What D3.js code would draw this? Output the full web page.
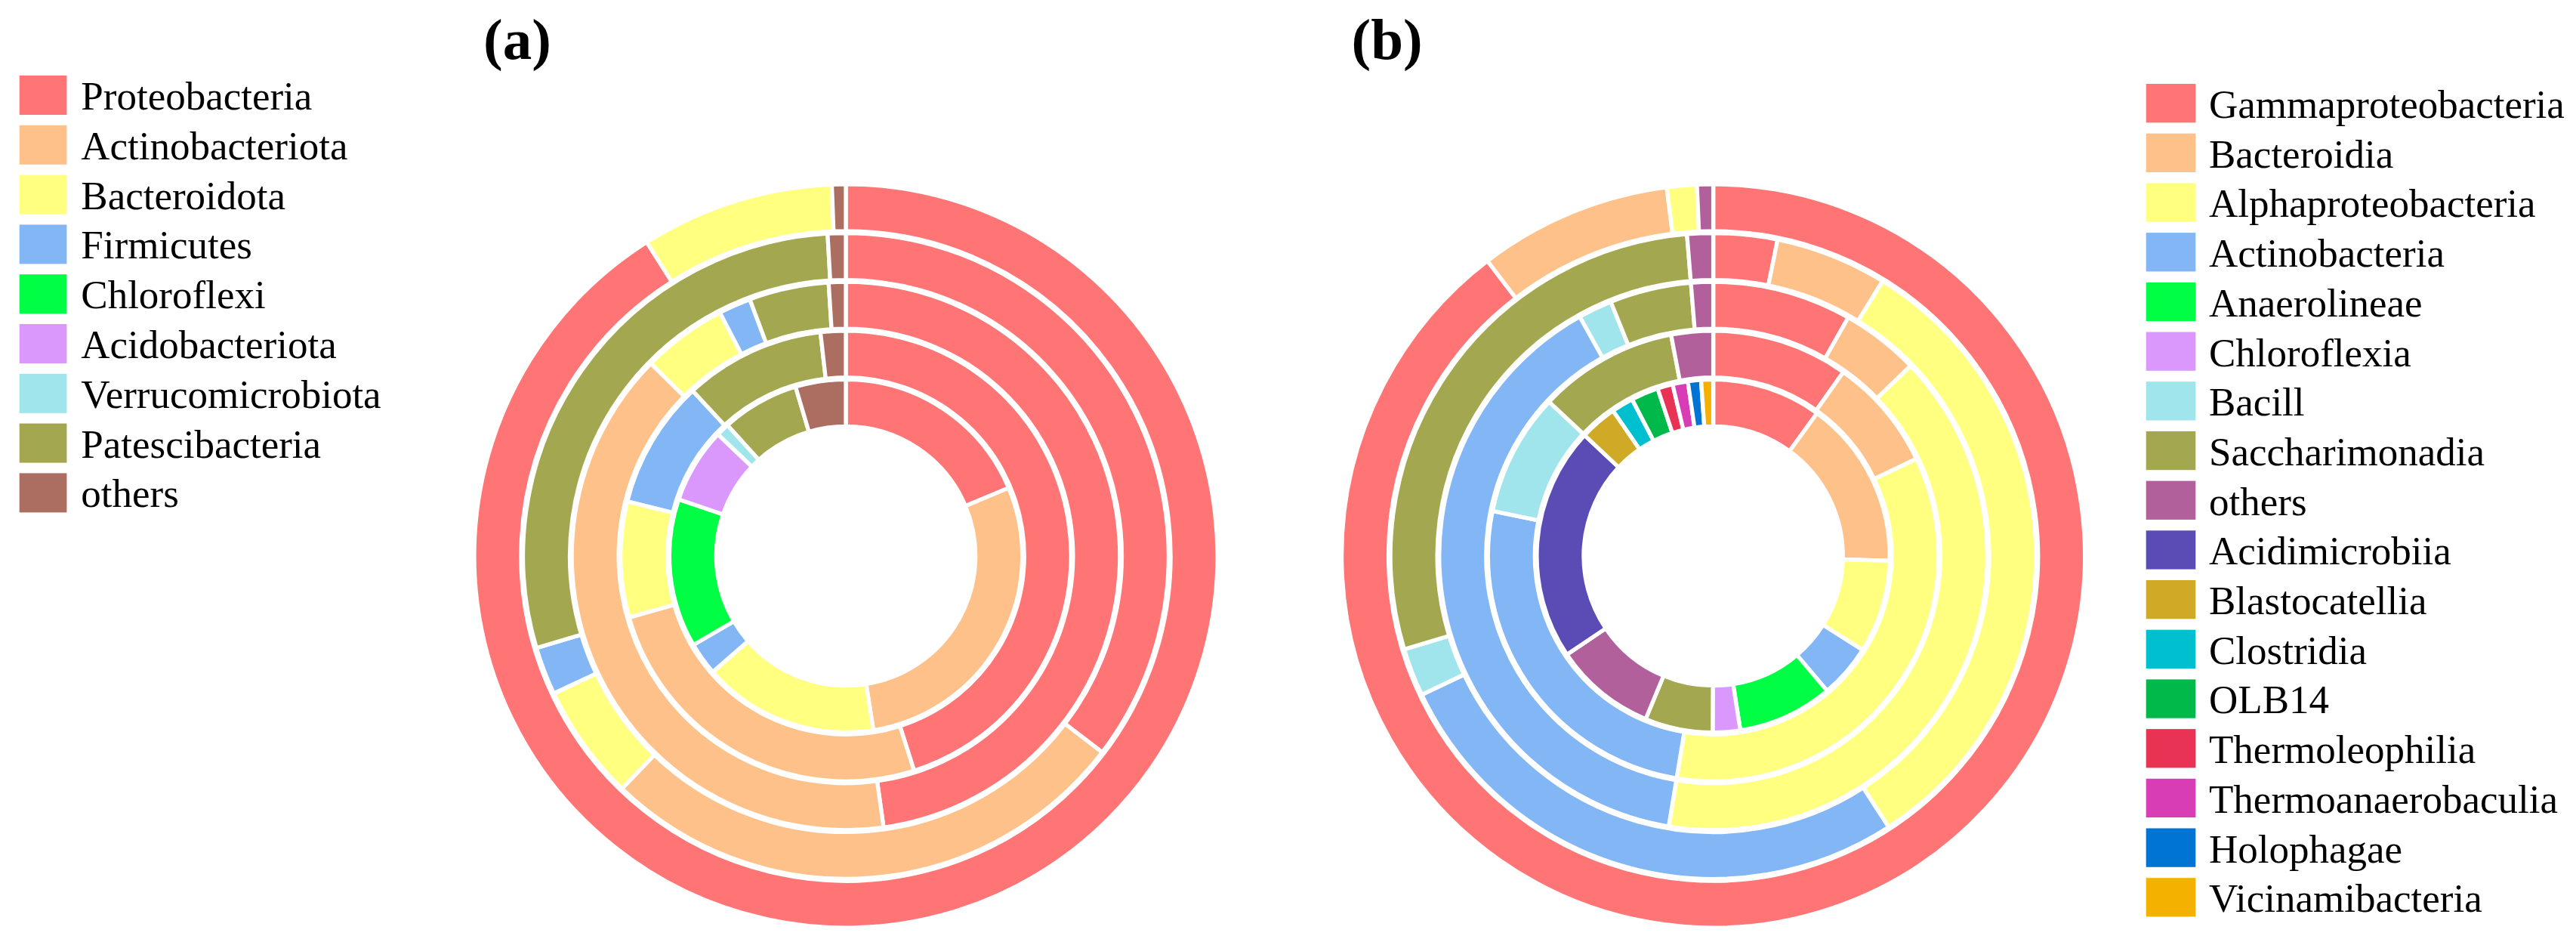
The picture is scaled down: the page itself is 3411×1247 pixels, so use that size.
<!DOCTYPE html>
<html>
<head>
<meta charset="utf-8">
<script src="https://cdn.jsdelivr.net/npm/d3@7"></script>
<style>
  body { margin: 0; background: #fff; }
  svg { display: block; }
  text { font-family: "Liberation Serif", "Times New Roman", serif; fill: #000; }
</style>
</head>
<body>
<svg id="chart"></svg>
<script>
const WIDTH = 3411;
const HEIGHT = 1247;

// (a) phylum level
const phyla = [
  "Proteobacteria", "Actinobacteriota", "Bacteroidota", "Firmicutes", "Chloroflexi",
  "Acidobacteriota", "Verrucomicrobiota", "Patescibacteria", "others"
];
const phylaColors = [
  "#ff7575", "#ffc18a", "#ffff80", "#82b6f5", "#00ff44",
  "#da98fc", "#a0e4ec", "#a3a750", "#ad6e62"
];
// one array per ring, inner to outer, % relative abundance
const phylaRings = [
  [18.7, 28.8, 16.1, 3.0, 13.6, 6.9, 1.2, 7.1, 4.6],
  [45.1, 25.5, 8.3, 9.2, 0, 0, 0, 10.1, 1.8],
  [47.8, 39.6, 5.0, 1.9, 0, 0, 0, 4.7, 1.0],
  [35.4, 26.8, 5.8, 2.4, 0, 0, 0, 28.7, 0.9],
  [91.0, 0, 8.4, 0, 0, 0, 0, 0, 0.6]
];

// (b) class level
const classes = [
  "Gammaproteobacteria", "Bacteroidia", "Alphaproteobacteria", "Actinobacteria", "Anaerolineae",
  "Chloroflexia", "Bacill", "Saccharimonadia", "others", "Acidimicrobiia", "Blastocatellia",
  "Clostridia", "OLB14", "Thermoleophilia", "Thermoanaerobaculia", "Holophagae", "Vicinamibacteria"
];
const classColors = [
  "#ff7575", "#ffc18a", "#ffff80", "#82b6f5", "#00ff44",
  "#da98fc", "#a0e4ec", "#a3a750", "#b2609c", "#5b4bb5", "#d0aa26",
  "#00c0d0", "#00b94a", "#e93355", "#d83db6", "#0074d3", "#f5b100"
];
const classRings = [
  [10.0, 15.4, 8.5, 4.9, 8.7, 2.5, 0, 6.2, 9.3, 21.4, 3.4, 2.0, 2.5, 1.4, 1.4, 1.2, 1.1],
  [9.8, 8.1, 34.7, 25.6, 0, 0, 8.8, 10.0, 3.0, 0, 0, 0, 0, 0, 0, 0, 0],
  [8.2, 4.6, 39.8, 39.3, 0, 0, 2.0, 4.8, 1.3, 0, 0, 0, 0, 0, 0, 0, 0],
  [3.2, 5.6, 32.1, 27.1, 0, 0, 2.4, 28.4, 1.3, 0, 0, 0, 0, 0, 0, 0, 0],
  [89.6, 8.4, 1.3, 0, 0, 0, 0, 0, 0.7, 0, 0, 0, 0, 0, 0, 0, 0]
];

const HOLE = 174.3;
const OUTER = 489.4;
const GAP = 5.3;

const svg = d3.select("#chart")
  .attr("width", WIDTH)
  .attr("height", HEIGHT)
  .attr("viewBox", `0 0 ${WIDTH} ${HEIGHT}`);

svg.append("rect")
  .attr("width", WIDTH)
  .attr("height", HEIGHT)
  .attr("fill", "#fff");

function drawRings(cx, cy, names, colors, rings) {
  const g = svg.append("g").attr("transform", `translate(${cx},${cy})`);

  const radius = d3.scaleBand()
    .domain(d3.range(rings.length))
    .range([HOLE, OUTER])
    .paddingInner(0.122);

  const color = d3.scaleOrdinal().domain(names).range(colors);

  const pie = d3.pie().sort(null).value(d => d.value);

  rings.forEach((values, i) => {
    const data = values
      .map((v, j) => ({ name: names[j], value: v }))
      .filter(d => d.value > 0);

    const arc = d3.arc()
      .innerRadius(radius(i) - GAP / 2)
      .outerRadius(radius(i) + radius.bandwidth() + GAP / 2);

    g.append("g")
      .selectAll("path")
      .data(pie(data))
      .join("path")
      .attr("d", arc)
      .attr("fill", d => color(d.data.name))
      .attr("stroke", "#fff")
      .attr("stroke-width", GAP)
      .attr("stroke-linejoin", "miter");
  });
}

function drawLegend(x, y, names, colors, opts) {
  const g = svg.append("g").attr("transform", `translate(${x},${y})`);

  const row = g.selectAll("g")
    .data(names)
    .join("g")
    .attr("transform", (_, i) => `translate(0,${i * opts.step})`);

  row.append("rect")
    .attr("width", opts.w)
    .attr("height", opts.h)
    .attr("fill", (_, i) => colors[i]);

  row.append("text")
    .attr("x", opts.textX)
    .attr("y", 45)
    .attr("font-size", "53px")
    .text(d => d);
}

const CY = 736;
const CXA = 1120;
const CXB = 2268.6;

drawRings(CXA, CY, phyla, phylaColors, phylaRings);
drawRings(CXB, CY, classes, classColors, classRings);

drawLegend(25.7, 100, phyla, phylaColors, { step: 65.8, w: 62.7, h: 52, textX: 81.6 });
drawLegend(2841.7, 111, classes, classColors, { step: 65.7, w: 65.6, h: 51.3, textX: 83.3 });

svg.append("text")
  .attr("x", CXA - 480)
  .attr("y", 78)
  .attr("font-size", "77px")
  .attr("font-weight", "bold")
  .text("(a)");

svg.append("text")
  .attr("x", CXB - 479)
  .attr("y", 78)
  .attr("font-size", "77px")
  .attr("font-weight", "bold")
  .text("(b)");
</script>
</body>
</html>
